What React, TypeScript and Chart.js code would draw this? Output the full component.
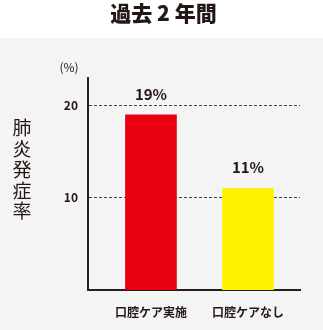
import React, { useEffect, useRef } from "react";
import { Chart, registerables } from "chart.js";

Chart.register(...registerables);

const TITLE = "過去 2 年間";
const Y_TITLE = ["肺", "炎", "発", "症", "率"];
const UNIT = "(%)";
const CATEGORIES = ["口腔ケア実施", "口腔ケアなし"];
const VALUES = [19, 11];
const BAR_COLORS = ["#e60012", "#fff100"];
const Y_TICKS = [10, 20];

const FONT = '"Noto Sans CJK JP", "Noto Sans", sans-serif';
const TEXT = "#231815";

export default function App() {
  const ref = useRef<HTMLCanvasElement | null>(null);

  useEffect(() => {
    document.body.style.margin = "0";
    const canvas = ref.current!;
    const decor = {
      id: "decor",
      beforeDraw(chart: any) {
        const ctx = chart.ctx;
        ctx.save();
        ctx.fillStyle = "#ffffff";
        ctx.fillRect(0, 0, chart.width, chart.height);
        ctx.fillStyle = "#f4f4f4";
        ctx.fillRect(0, 38, chart.width, chart.height - 38);
        ctx.restore();
      },
      afterDraw(chart: any) {
        const ctx = chart.ctx;
        ctx.save();
        ctx.fillStyle = TEXT;
        ctx.textAlign = "center";
        ctx.textBaseline = "middle";
        ctx.font = `900 21px ${FONT}`;
        ctx.fillText(TITLE, 163.5, 13.5);
        ctx.font = `12px ${FONT}`;
        ctx.fillText(UNIT, 69, 67);
        ctx.font = `400 19px ${FONT}`;
        ctx.fillStyle = "#231815";
        Y_TITLE.forEach((c, i) => ctx.fillText(c, 22, 128 + i * 20.8));
        ctx.fillStyle = TEXT;
        ctx.font = `bold 15px ${FONT}`;
        const meta = chart.getDatasetMeta(0);
        meta.data.forEach((el: any, i: number) => {
          ctx.fillText(`${VALUES[i]}%`, el.x, el.y - 21);
        });
        ctx.restore();
      },
    };

    const chart = new Chart(canvas, {
      type: "bar",
      data: {
        datasets: [
          {
            data: VALUES.map((v, i) => ({ x: i, y: v })),
            backgroundColor: BAR_COLORS,
            barThickness: 51,
            borderWidth: 0,
          },
        ],
      },
      options: {
        animation: false,
        responsive: false,
        devicePixelRatio: 1,
        layout: { padding: { left: 0, right: 23, top: 78, bottom: 0 } },
        plugins: { legend: { display: false }, tooltip: { enabled: false }, title: { display: false } },
        scales: {
          x: {
            type: "linear",
            offset: false,
            min: -0.649,
            max: 1.536,
            afterBuildTicks: (scale: any) => {
              scale.ticks = CATEGORIES.map((_, i) => ({ value: i }));
            },
            afterFit: (scale: any) => {
              scale.height = 40;
            },
            grid: { display: false, drawTicks: false, offset: false },
            border: { display: true, color: "#231f20", width: 2 },
            ticks: {
              padding: 15,
              color: TEXT,
              font: { family: FONT, size: 12, weight: "bold" },
              autoSkip: false,
              maxRotation: 0,
              callback: (v: any) => CATEGORIES[Math.round(Number(v))] ?? "",
            },
          },
          y: {
            min: 0,
            max: 23,
            afterBuildTicks: (scale: any) => {
              scale.ticks = Y_TICKS.map((v) => ({ value: v }));
            },
            afterFit: (scale: any) => {
              scale.width = 88;
            },
            grid: { color: "#444444", lineWidth: 1, drawTicks: false },
            border: { display: true, color: "#231f20", width: 2, dash: [3, 2] },
            ticks: {
              padding: 10,
              color: TEXT,
              font: { family: FONT, size: 12, weight: "bold" },
            },
          },
        },
      } as any,
      plugins: [decor],
    });
    return () => chart.destroy();
  }, []);

  return (
    <div style={{ position: "absolute", left: 0, top: 0, width: 323, height: 330 }}>
      <canvas ref={ref} width={323} height={330} style={{ display: "block" }} />
    </div>
  );
}
